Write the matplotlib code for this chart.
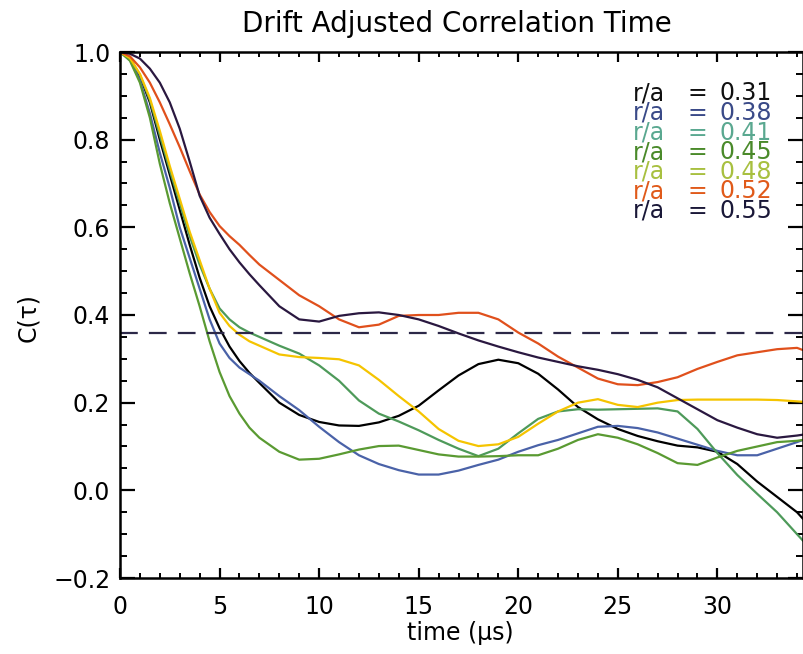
import matplotlib
matplotlib.use("Agg")
import matplotlib.pyplot as plt
from matplotlib.ticker import MultipleLocator

plt.rcParams['font.family'] = ['DejaVu Sans']

# lag time (microseconds)
time_us = [0, 0.5, 1, 1.5, 2, 2.5, 3, 3.5, 4, 4.5, 5, 5.5, 6, 6.5, 7,
           8, 9, 10, 11, 12, 13, 14, 15, 16, 17, 18, 19, 20,
           21, 22, 23, 24, 25, 26, 27, 28, 29, 30, 31, 32, 33, 34, 34.3]

radii = ["0.31", "0.38", "0.41", "0.45", "0.48", "0.52", "0.55"]

c_031 = [1.0, 0.985, 0.945, 0.885, 0.80, 0.72, 0.64, 0.56, 0.485, 0.42, 0.37, 0.328, 0.295, 0.268, 0.245,
         0.20, 0.172, 0.156, 0.148, 0.147, 0.155, 0.17, 0.193, 0.228, 0.262, 0.288, 0.298, 0.29,
         0.266, 0.23, 0.19, 0.162, 0.14, 0.124, 0.112, 0.102, 0.098, 0.088, 0.06, 0.02, -0.015, -0.05, -0.065]
c_038 = [1.0, 0.982, 0.935, 0.86, 0.77, 0.69, 0.60, 0.53, 0.46, 0.39, 0.335, 0.302, 0.28, 0.265, 0.25,
         0.215, 0.183, 0.145, 0.11, 0.08, 0.06, 0.046, 0.036, 0.036, 0.045, 0.058, 0.07, 0.088,
         0.103, 0.115, 0.13, 0.145, 0.147, 0.142, 0.132, 0.118, 0.104, 0.09, 0.08, 0.08, 0.095, 0.11, 0.115]
c_041 = [1.0, 0.985, 0.948, 0.89, 0.81, 0.73, 0.655, 0.58, 0.515, 0.46, 0.415, 0.39, 0.372, 0.36, 0.35,
         0.33, 0.312, 0.285, 0.25, 0.205, 0.175, 0.157, 0.137, 0.115, 0.095, 0.078, 0.095, 0.13,
         0.163, 0.18, 0.185, 0.184, 0.185, 0.186, 0.187, 0.18, 0.14, 0.085, 0.035, -0.008, -0.05, -0.10, -0.115]
c_045 = [1.0, 0.98, 0.93, 0.85, 0.745, 0.655, 0.575, 0.495, 0.42, 0.34, 0.27, 0.215, 0.175, 0.143, 0.12,
         0.088, 0.07, 0.072, 0.082, 0.093, 0.101, 0.102, 0.092, 0.082, 0.077, 0.077, 0.078, 0.08,
         0.08, 0.095, 0.115, 0.128, 0.12, 0.105, 0.085, 0.062, 0.058, 0.075, 0.09, 0.10, 0.11, 0.113, 0.115]
c_048 = [1.0, 0.986, 0.95, 0.895, 0.82, 0.74, 0.665, 0.59, 0.525, 0.46, 0.405, 0.375, 0.355, 0.34, 0.33,
         0.31, 0.304, 0.302, 0.299, 0.285, 0.252, 0.215, 0.18, 0.14, 0.113, 0.101, 0.105, 0.122,
         0.152, 0.18, 0.20, 0.208, 0.195, 0.19, 0.20, 0.206, 0.207, 0.207, 0.207, 0.207, 0.206, 0.203, 0.202]
c_052 = [1.0, 0.99, 0.965, 0.93, 0.885, 0.835, 0.783, 0.728, 0.675, 0.635, 0.603, 0.58, 0.56, 0.537, 0.515,
         0.48, 0.445, 0.42, 0.39, 0.372, 0.378, 0.398, 0.40, 0.40, 0.405, 0.405, 0.39, 0.36,
         0.335, 0.305, 0.28, 0.255, 0.242, 0.24, 0.247, 0.258, 0.277, 0.293, 0.308, 0.315, 0.322, 0.325, 0.32]
c_055 = [1.0, 0.996, 0.985, 0.962, 0.93, 0.885, 0.825, 0.75, 0.672, 0.622, 0.585, 0.55, 0.52, 0.493, 0.468,
         0.42, 0.39, 0.385, 0.398, 0.404, 0.406, 0.40, 0.39, 0.375, 0.358, 0.342, 0.328, 0.315,
         0.303, 0.293, 0.283, 0.275, 0.265, 0.252, 0.235, 0.21, 0.185, 0.16, 0.143, 0.128, 0.12, 0.125, 0.127]

series = [c_031, c_038, c_041, c_045, c_048, c_052, c_055]
line_colors = ["#000000", "#4a62a8", "#4e9a5a", "#5a9a32", "#f5c400", "#e0501c", "#2a1840"]
label_colors = ["#101010", "#3a4a88", "#5aa890", "#4a8a2a", "#a8c040", "#e05a1a", "#1a1838"]

threshold = 0.36

W, H = 804, 654
fig = plt.figure(figsize=(W / 100, H / 100), dpi=100)
L, R, B, T = 120, 803, 578, 52
ax = fig.add_axes([L / W, 1 - B / H, (R - L) / W, (B - T) / H])

for vals, col in zip(series, line_colors):
    ax.plot(time_us, vals, color=col, lw=1.6, solid_joinstyle='round', solid_capstyle='round')

ax.axhline(threshold, color="#2c2848", lw=1.6, dashes=(8, 5))

ax.set_xlim(0, 34.3)
ax.set_ylim(-0.2, 1.0)
ax.xaxis.set_major_locator(MultipleLocator(5))
ax.xaxis.set_minor_locator(MultipleLocator(1))
ax.yaxis.set_major_locator(MultipleLocator(0.2))
ax.yaxis.set_minor_locator(MultipleLocator(0.05))
ax.set_xticks([0, 5, 10, 15, 20, 25, 30])
ax.set_xticklabels(["0", "5", "10", "15", "20", "25", "30"])
ax.set_yticks([-0.2, 0.0, 0.2, 0.4, 0.6, 0.8, 1.0])
ax.set_yticklabels(["\u22120.2", "0.0", "0.2", "0.4", "0.6", "0.8", "1.0"])

for s in ax.spines.values():
    s.set_linewidth(1.8)
ax.tick_params(axis='x', which='major', direction='in', top=True, length=7.5, width=1.6,
               labelsize=17, pad=12)
ax.tick_params(axis='x', which='minor', direction='in', top=True, length=3.8, width=1.4)
ax.tick_params(axis='y', which='major', direction='in', right=True, length=10.5, width=1.6,
               labelsize=17, pad=7)
ax.tick_params(axis='y', which='minor', direction='in', right=True, length=5.2, width=1.4)

fig.text(457 / W, 1 - 24 / H, "Drift Adjusted Correlation Time", ha='center', va='center',
         fontsize=20)
fig.text(460 / W, 1 - 633 / H, "time (\u03bcs)", ha='center', va='center', fontsize=17)
fig.text(28 / W, 1 - 318 / H, "C(\u03c4)", ha='center', va='center', fontsize=17, rotation=90)

row0, step = 93.5, 19.5
for i, (r, col) in enumerate(zip(radii, label_colors)):
    yy = 1 - (row0 + i * step) / H
    fig.text(633 / W, yy, "r/a", color=col, ha='left', va='center', fontsize=17)
    fig.text(697 / W, yy, "=", color=col, ha='center', va='center', fontsize=17)
    fig.text(720 / W, yy, r, color=col, ha='left', va='center', fontsize=17)

fig.savefig("out.png", dpi=100)
